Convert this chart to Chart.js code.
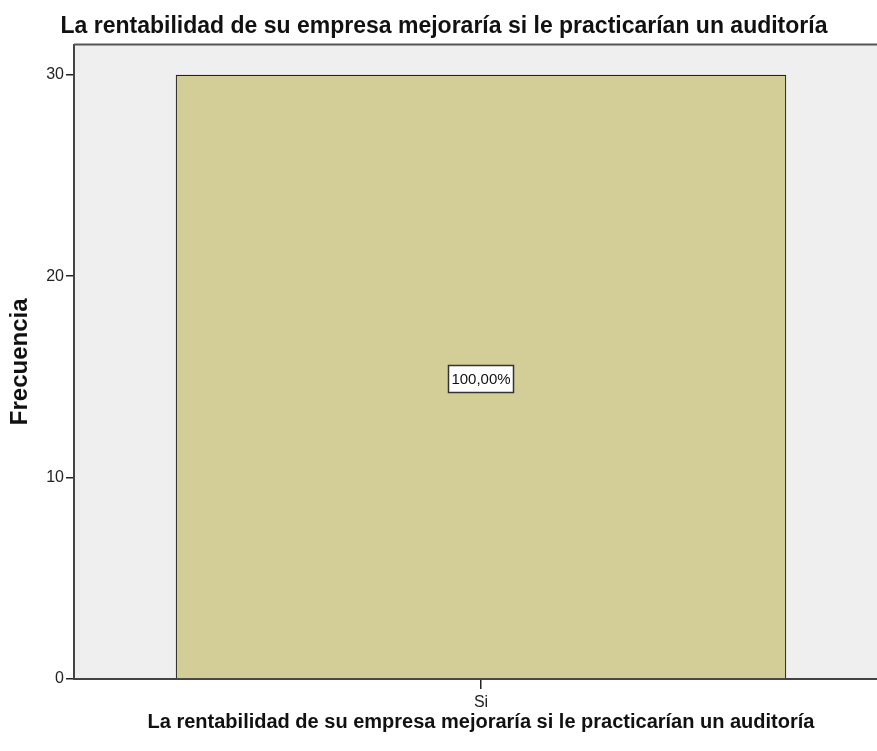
<!DOCTYPE html>
<html>
<head>
<meta charset="utf-8">
<script src="https://cdn.jsdelivr.net/npm/chart.js@4/dist/chart.umd.min.js"></script>
<style>
  html, body { margin: 0; padding: 0; background: #ffffff; overflow: hidden; }
  #wrap { position: relative; width: 890px; height: 751px; }
</style>
</head>
<body>
<div id="wrap"><canvas id="c" width="890" height="751"></canvas></div>
<script>
const chartTitle = 'La rentabilidad de su empresa mejoraría si le practicarían un auditoría';
const xAxisTitle = 'La rentabilidad de su empresa mejoraría si le practicarían un auditoría';
const yAxisTitle = 'Frecuencia';
const categories = ['Si'];
const frequencies = [30];
const percentLabels = ['100,00%'];
const yTickValues = [0, 10, 20, 30];

const FONT = "'Liberation Sans', Arial, Helvetica, sans-serif";

const plotBg = {
  id: 'plotBg',
  beforeDraw(chart) {
    const {ctx, chartArea: a} = chart;
    ctx.save();
    ctx.fillStyle = '#efefef';
    ctx.fillRect(a.left, a.top, a.right - a.left, a.bottom - a.top);
    ctx.restore();
  },
  afterDraw(chart) {
    const {ctx, chartArea: a} = chart;
    ctx.save();
    ctx.strokeStyle = '#555555';
    ctx.lineWidth = 2;
    ctx.beginPath();
    ctx.moveTo(a.left, a.top);
    ctx.lineTo(a.right, a.top);
    ctx.stroke();
    ctx.restore();
  }
};

const boxLabels = {
  id: 'boxLabels',
  afterDatasetsDraw(chart) {
    const {ctx} = chart;
    const meta = chart.getDatasetMeta(0);
    const yScale = chart.scales.y;
    ctx.save();
    ctx.font = '15px ' + FONT;
    ctx.textAlign = 'center';
    ctx.textBaseline = 'middle';
    meta.data.forEach((bar, i) => {
      const txt = percentLabels[i];
      const cx = bar.x;
      const cy = yScale.getPixelForValue(frequencies[i] / 2) + 1.5;
      const w = ctx.measureText(txt).width + 6;
      const h = 27;
      const x0 = Math.round(cx - w / 2) + 0.5;
      const y0 = Math.round(cy - h / 2) + 0.5;
      ctx.fillStyle = '#ffffff';
      ctx.fillRect(x0, y0, Math.round(w), h);
      ctx.strokeStyle = '#333333';
      ctx.lineWidth = 1.5;
      ctx.strokeRect(x0, y0, Math.round(w), h);
      ctx.fillStyle = '#111111';
      ctx.fillText(txt, cx, cy + 1);
    });
    ctx.restore();
  }
};

new Chart(document.getElementById('c'), {
  type: 'bar',
  data: {
    labels: categories,
    datasets: [{
      data: frequencies,
      backgroundColor: '#d3ce97',
      borderColor: '#222222',
      borderWidth: 1.2,
      borderSkipped: 'bottom',
      barPercentage: 0.75,
      categoryPercentage: 1.0
    }]
  },
  options: {
    responsive: false,
    animation: false,
    layout: { padding: { left: 0, right: 2, top: 0, bottom: 17 } },
    plugins: {
      legend: { display: false },
      tooltip: { enabled: false },
      title: {
        display: true,
        text: chartTitle,
        color: '#111111',
        font: { family: FONT, size: 23, weight: 'bold', lineHeight: 1.2 },
        padding: { top: 13, bottom: 4 }
      }
    },
    scales: {
      x: {
        offset: true,
        afterFit(scale) { scale.height = 55; },
        grid: { display: true, offset: false, drawOnChartArea: false, drawTicks: true, tickLength: 10, color: '#222222', lineWidth: 1.5 },
        border: { display: true, color: '#444444', width: 2 },
        ticks: { color: '#222222', font: { family: FONT, size: 16, lineHeight: 1.0 }, padding: 6 },
        title: { display: true, text: xAxisTitle, color: '#111111', font: { family: FONT, size: 20, weight: 'bold', lineHeight: 1.2 }, padding: { top: 0, bottom: 0 } }
      },
      y: {
        min: 0,
        max: 31.5,
        afterBuildTicks(scale) { scale.ticks = yTickValues.map(v => ({ value: v })); },
        afterFit(scale) { scale.width = 74; },
        grid: { display: true, drawOnChartArea: false, drawTicks: true, tickLength: 8, color: '#222222', lineWidth: 1.5 },
        border: { display: true, color: '#444444', width: 2 },
        ticks: { color: '#222222', font: { family: FONT, size: 16 }, padding: 2 },
        title: { display: true, text: yAxisTitle, color: '#111111', font: { family: FONT, size: 24, weight: 'bold', lineHeight: 1.2 }, padding: { top: 6, bottom: 0 } }
      }
    }
  },
  plugins: [plotBg, boxLabels]
});
</script>
</body>
</html>
